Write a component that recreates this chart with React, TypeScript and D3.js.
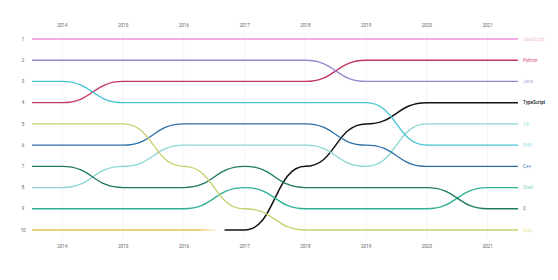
import React from "react";
import * as d3 from "d3";

const years = [2014, 2015, 2016, 2017, 2018, 2019, 2020, 2021];
const rankTicks = [1, 2, 3, 4, 5, 6, 7, 8, 9, 10];

const seriesNames = ["JavaScript", "Python", "Java", "TypeScript", "C#", "PHP", "C++", "Shell", "C", "Ruby", "Other"];
const rankJavaScript = [1, 1, 1, 1, 1, 1, 1, 1];
const rankPython = [4, 3, 3, 3, 3, 2, 2, 2];
const rankJava = [2, 2, 2, 2, 2, 3, 3, 3];
const rankTypeScript = [null, null, null, 10, 7, 5, 4, 4];
const rankCSharp = [8, 7, 6, 6, 6, 7, 5, 5];
const rankPHP = [3, 4, 4, 4, 4, 4, 6, 6];
const rankCpp = [6, 6, 5, 5, 5, 6, 7, 7];
const rankShell = [9, 9, 9, 8, 9, 9, 9, 8];
const rankC = [7, 8, 8, 7, 8, 8, 8, 9];
const rankRuby = [5, 5, 7, 9, 10, 10, 10, 10];
const rankOther = [10, 10, 10, null, null, null, null, null];

const seriesRanks: (number | null)[][] = [
  rankJavaScript, rankPython, rankJava, rankTypeScript, rankCSharp,
  rankPHP, rankCpp, rankShell, rankC, rankRuby, rankOther,
];

const lineColors = ["#ee8fd8", "#c23462", "#9a86cc", "#111111", "#8ad6d2", "#46c4d6", "#2f6fa8", "#2fb095", "#1f7a60", "#c9d070", "#e9c250"];
const labelColors = ["#f3bfe6", "#d04a76", "#bcaede", "#111111", "#9ee2dc", "#8cdce6", "#3a74aa", "#8ed6c2", "#2a7060", "#ece4a4", "#e9c250"];

export default function App() {
  const W = 558, H = 280;
  const x = d3.scaleLinear().domain([2013.5, 2021.5]).range([32, 518]);
  const y = d3.scaleLinear().domain([1, 10]).range([39, 230]);
  const line = d3.line<[number, number]>()
    .x(d => x(d[0]))
    .y(d => y(d[1]))
    .curve(d3.curveBumpX);

  const paths = seriesRanks.map((ranks, i) => {
    const pts: [number, number][] = [];
    let first = -1, last = -1;
    ranks.forEach((r, j) => { if (r != null) { if (first < 0) first = j; last = j; } });
    const startPad = first === 0 ? 0.5 : 0.33;
    const endPad = last === years.length - 1 ? 0.5 : 0.55;
    pts.push([years[first] - startPad, ranks[first] as number]);
    for (let j = first; j <= last; j++) pts.push([years[j], ranks[j] as number]);
    pts.push([years[last] + endPad, ranks[last] as number]);
    return { d: line(pts) || "", fade: last < years.length - 1, endYear: years[last] };
  });

  return (
    <svg width={W} height={H} style={{ display: "block", position: "absolute", left: 0, top: 0 }}
      fontFamily="Roboto, 'Noto Sans', sans-serif">
      <rect width={W} height={H} fill="#ffffff" />
      <defs>
        {paths.map((p, i) => p.fade ? (
          <linearGradient key={i} id={`fade${i}`} gradientUnits="userSpaceOnUse"
            x1={x(p.endYear + 0.25)} x2={x(p.endYear + 0.55)} y1={0} y2={0}>
            <stop offset="0" stopColor={lineColors[i]} stopOpacity={1} />
            <stop offset="1" stopColor={lineColors[i]} stopOpacity={0.05} />
          </linearGradient>
        ) : null)}
      </defs>
      {years.map(yr => (
        <line key={yr} x1={x(yr)} x2={x(yr)} y1={32} y2={238} stroke="#ececec" strokeWidth={0.6} />
      ))}
      {years.map(yr => (
        <text key={"t" + yr} x={x(yr)} y={26.5} fontSize={4.6} fill="#666" textAnchor="middle">{yr}</text>
      ))}
      {years.map(yr => (
        <text key={"b" + yr} x={x(yr)} y={247.5} fontSize={4.6} fill="#666" textAnchor="middle">{yr}</text>
      ))}
      {rankTicks.map(r => (
        <text key={"r" + r} x={23} y={y(r) + 1.7} fontSize={4.6} fill="#666" textAnchor="middle">{r}</text>
      ))}
      {paths.map((p, i) => (
        <path key={"p" + i} d={p.d} fill="none"
          stroke={p.fade ? `url(#fade${i})` : lineColors[i]}
          strokeWidth={i === 3 ? 1.5 : 1.35} />
      ))}
      {seriesNames.slice(0, 10).map((name, i) => {
        const ranks = seriesRanks[i];
        const r = ranks[ranks.length - 1] as number;
        return (
          <text key={"l" + name} x={523} y={y(r) + 1.7} fontSize={4.6}
            fill={labelColors[i]} fontWeight={i === 3 ? 500 : 400}>{name}</text>
        );
      })}
    </svg>
  );
}
